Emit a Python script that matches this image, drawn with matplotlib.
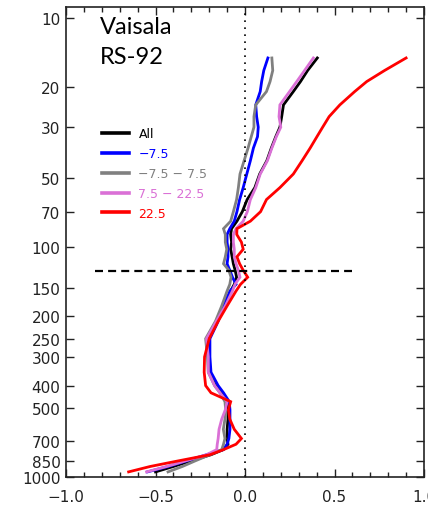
import matplotlib
matplotlib.use("Agg")
import matplotlib.pyplot as plt
from matplotlib.ticker import FixedLocator, MultipleLocator, NullFormatter

# Pressure levels (hPa)
pressure = [15, 17, 19, 21, 24, 27, 30, 33, 37, 42, 48, 55, 62, 70, 77, 83, 88, 95,
            102, 110, 118, 126, 135, 145, 155, 180, 210, 250, 300, 350, 400, 430,
            470, 510, 560, 620, 680, 720, 760, 800, 850, 900, 950]

all_lat = [0.404, 0.35, 0.31, 0.27, 0.215, 0.205, 0.195, 0.172, 0.147, 0.122, 0.082,
           0.055, 0.012, -0.015, -0.045, -0.075, -0.08, -0.075, -0.08, -0.072, -0.065,
           -0.055, -0.047, -0.06, -0.08, -0.115, -0.155, -0.205, -0.205, -0.20, -0.165,
           -0.13, -0.095, -0.095, -0.095, -0.10, -0.10, -0.095, -0.121, -0.19, -0.30,
           -0.40, -0.50]

south = [0.128, 0.105, 0.093, 0.085, 0.06, 0.065, 0.074, 0.07, 0.047, 0.03, 0.01,
         -0.01, -0.03, -0.045, -0.06, -0.085, -0.10, -0.10, -0.095, -0.095, -0.10,
         -0.085, -0.07, -0.05, -0.084, -0.12, -0.15, -0.196, -0.196, -0.19, -0.15,
         -0.12, -0.088, -0.084, -0.084, -0.084, -0.09, -0.10, -0.121, -0.215, -0.325,
         -0.43, -0.545]

tropics = [0.15, 0.155, 0.14, 0.12, 0.06, 0.05, 0.05, 0.035, 0.017, -0.005, -0.028,
           -0.037, -0.047, -0.065, -0.08, -0.12, -0.11, -0.11, -0.102, -0.11, -0.12,
           -0.09, -0.078, -0.085, -0.10, -0.13, -0.165, -0.22, -0.21, -0.205, -0.17,
           -0.14, -0.112, -0.108, -0.112, -0.121, -0.112, -0.12, -0.13, -0.197, -0.277,
           -0.35, -0.43]

subtropics = [0.382, 0.333, 0.289, 0.249, 0.195, 0.19, 0.20, 0.175, 0.150, 0.125, 0.085,
              0.06, 0.03, 0.013, -0.01, -0.05, -0.065, -0.065, -0.06, -0.06, -0.05,
              -0.037, -0.028, -0.056, -0.07, -0.11, -0.16, -0.215, -0.205, -0.205, -0.17,
              -0.14, -0.10, -0.11, -0.13, -0.145, -0.15, -0.155, -0.158, -0.215, -0.33,
              -0.437, -0.55]

north = [0.90, 0.78, 0.68, 0.613, 0.53, 0.47, 0.434, 0.402, 0.364, 0.319, 0.27,
         0.195, 0.12, 0.087, 0.03, -0.045, -0.046, -0.02, -0.01, -0.045, -0.03,
         -0.01, 0.015, -0.025, -0.05, -0.10, -0.15, -0.20, -0.226, -0.228, -0.22,
         -0.19, -0.08, -0.093, -0.085, -0.06, -0.02, -0.05, -0.12, -0.196, -0.37,
         -0.53, -0.65]

series_labels = ["All", "\u22127.5", "\u22127.5 \u2212 7.5", "7.5 \u2212 22.5", "22.5"]
series_colors = ["black", "#0000ff", "#808080", "#da70d6", "#ff0000"]

y_ticks = [10, 20, 30, 50, 70, 100, 150, 200, 250, 300, 400, 500, 700, 850, 1000]
x_ticks = [-1.0, -0.5, 0.0, 0.5, 1.0]
x_ticklabels = ["\u22121.0", "\u22120.5", "0.0", "0.5", "1.0"]

divider_p = 127
divider_x = [-0.84, 0.6]

fig = plt.figure(figsize=(4.28, 5.10), dpi=100)
ax = fig.add_axes([66 / 428, 32 / 510, 358 / 428, 470 / 510])

for data, lab, col in zip([all_lat, south, tropics, subtropics, north], series_labels, series_colors):
    ax.plot(data, pressure, color=col, lw=2.0, label=lab, solid_joinstyle="miter")

ax.axvline(0, color="black", lw=1.2, linestyle=(0, (1, 3.2)))
dl, = ax.plot(divider_x, [divider_p, divider_p], color="black", lw=1.6)
dl.set_dashes([3.6, 2.3])

ax.set_yscale("log")
ax.set_ylim(1000, 9)
ax.set_xlim(-1.0, 1.0)

ax.yaxis.set_major_locator(FixedLocator(y_ticks))
ax.yaxis.set_minor_locator(FixedLocator([]))
ax.set_yticklabels([str(t) for t in y_ticks])
ax.yaxis.set_minor_formatter(NullFormatter())
ax.xaxis.set_major_locator(FixedLocator(x_ticks))
ax.set_xticklabels(x_ticklabels)
ax.xaxis.set_minor_locator(MultipleLocator(0.1))

ax.tick_params(axis="both", which="major", direction="in", length=6, width=1,
               top=True, right=True, colors="#222222")
ax.tick_params(axis="both", which="minor", direction="in", length=3.5, width=1,
               top=True, right=True, colors="#222222")
ax.tick_params(axis="y", labelsize=11, pad=4)
ax.tick_params(axis="x", labelsize=11, pad=9)
for sp in ax.spines.values():
    sp.set_linewidth(1.2)
    sp.set_color("#222222")

fig.text(100 / 428, 1 - 27 / 510, "Vaisala", fontsize=17,
         family=["Lato", "DejaVu Sans"], va="center", ha="left")
fig.text(100 / 428, 1 - 58 / 510, "RS-92", fontsize=17,
         family=["Lato", "DejaVu Sans"], va="center", ha="left")

leg = ax.legend(loc="upper left", bbox_to_anchor=((96 - 66) / 358, (478 - 122) / 470),
                frameon=False, borderpad=0, handlelength=2.1, handletextpad=0.8,
                labelspacing=0.55, labelcolor="linecolor",
                prop={"family": ["Liberation Sans Narrow", "DejaVu Sans"], "size": 9})
for h in leg.get_lines():
    h.set_linewidth(2.6)

fig.savefig("out.png", dpi=100)
